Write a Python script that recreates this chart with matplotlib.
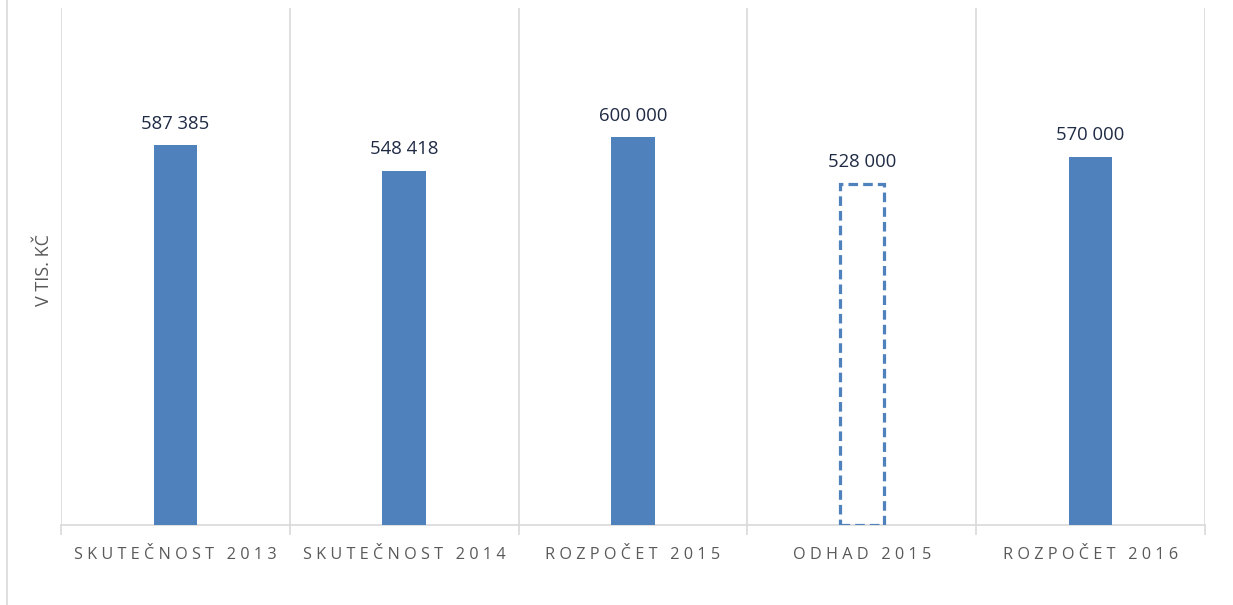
import matplotlib
matplotlib.use('Agg')
import matplotlib.pyplot as plt
from matplotlib.lines import Line2D

# data
categories = ['SKUTEČNOST 2013', 'SKUTEČNOST 2014', 'ROZPOČET 2015', 'ODHAD 2015', 'ROZPOČET 2016']
values = [587385, 548418, 600000, 528000, 570000]
estimate = [False, False, False, True, False]

blue = '#4f81bd'
grid_c = '#d9d9d9'
text_c = '#595959'

plt.rcParams['font.family'] = ['Open Sans', 'DejaVu Sans']

W, H = 1233, 605
fig = plt.figure(figsize=(W / 100, H / 100), dpi=100)
ax = fig.add_axes([61 / W, (H - 525) / H, (1205 - 61) / W, (525 - 8) / H])

pos = list(range(len(categories)))
width = 0.19
for p, v, est in zip(pos, values, estimate):
    if est:
        ax.bar(p, v, width, facecolor='none', edgecolor=blue, linewidth=2.3,
               linestyle=(0, (3, 1.6)), zorder=3)
    else:
        ax.bar(p, v, width, color=blue, zorder=3)
    ax.annotate(f'{v:,}'.replace(',', ' '), (p, v), xytext=(0, 9),
                textcoords='offset points', ha='center', va='bottom',
                fontsize=13.3, color='#1f2a44')

ax.set_xlim(-0.5, len(categories) - 0.5)
ax.set_ylim(0, 800000)

# category boundaries as gridlines + ticks
ax.set_xticks([p - 0.5 for p in pos] + [len(pos) - 0.5], minor=True)
ax.set_xticks(pos)
ax.set_xticklabels([' '.join(c) for c in categories], fontsize=11.7, color=text_c)
ax.tick_params(axis='x', which='major', length=0, pad=16)
ax.tick_params(axis='x', which='minor', length=7, color=grid_c, width=1.2)
ax.grid(axis='x', which='minor', color=grid_c, linewidth=1.2)
ax.set_yticks([])

for s in ['top', 'right', 'left']:
    ax.spines[s].set_visible(False)
ax.spines['bottom'].set_color(grid_c)
ax.spines['bottom'].set_linewidth(1.2)

fig.text(44 / W, 1 - 270 / H, 'V TIS. KČ', rotation=90, ha='center', va='center',
         fontsize=13, color=text_c)

fig.add_artist(Line2D([7 / W, 7 / W], [0, 1], color=grid_c, linewidth=1.2,
                      transform=fig.transFigure))

fig.savefig('out.png', dpi=100)
